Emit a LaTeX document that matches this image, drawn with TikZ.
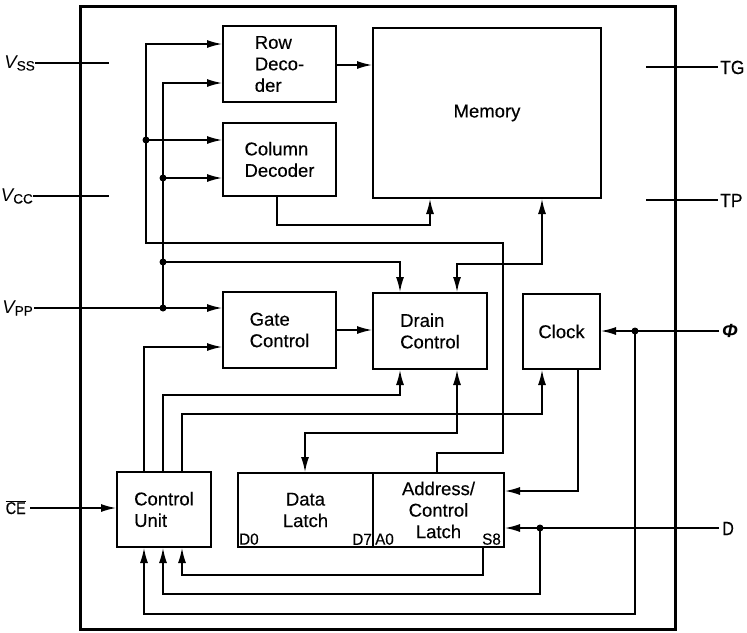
\documentclass[tikz,border=0pt]{standalone}
\usepackage{fontspec}
\setmainfont{Liberation Sans}
\newfontfamily\heavy{Liberation Sans}[FakeBold=0.35]
\usetikzlibrary{arrows.meta}
\begin{document}
\begin{tikzpicture}[x=1pt,y=-1pt,
  box/.style={draw, line width=2pt, anchor=north west, inner sep=0pt,
    font=\heavy\fontsize{18.5}{21.5}\selectfont, align=left},
  wire/.style={line width=1.4pt},
  tip/.tip={Latex[length=15pt,width=8pt]},
  arr/.style={wire, -tip},
  barr/.style={wire, tip-tip},
  dot/.style={circle, fill, inner sep=0pt, minimum size=7pt},
  pin/.style={inner sep=0pt, font=\heavy\fontsize{19}{19}\selectfont},
  small/.style={inner sep=0pt, font=\heavy\fontsize{16}{16}\selectfont}
]
\useasboundingbox (0,0) rectangle (747,632);

% chip outline
\node[draw, line width=2.8pt, anchor=north west, inner sep=0pt,
  minimum width=595pt, minimum height=623pt] (chip) at (79,5) {};

% blocks
\node[box, minimum width=113pt, minimum height=76pt] (rd) at (222,25) {Row\\Deco-\\der};
\node[box, minimum width=113pt, minimum height=73pt] (cd) at (222,122) {Column\\Decoder};
\node[box, minimum width=228pt, minimum height=170pt] (mem) at (372,27) {Memory};
\node[box, minimum width=113pt, minimum height=76pt] (gc) at (222,291) {Gate\\Control};
\node[box, minimum width=114pt, minimum height=76pt] (dc) at (372,292) {Drain\\Control};
\node[box, minimum width=77pt, minimum height=75pt] (clk) at (522,293) {Clock};
\node[box, minimum width=94pt, minimum height=75pt] (cu) at (116,471) {Control\\Unit};
\node[box, align=center, minimum width=135pt, minimum height=74pt] (dl) at (237,472) {Data\\Latch};
\node[box, align=center, minimum width=131pt, minimum height=74pt] (al) at (372,472) {Address/\\Control\\Latch};

% latch pin labels
\node[small, anchor=south west, xshift=2pt, yshift=3pt] (d0) at (dl.south west) {\scalebox{0.95}[1]{D0}};
\node[small, anchor=south east, xshift=-2pt, yshift=3pt] (d7) at (dl.south east) {\scalebox{0.95}[1]{D7}};
\node[small, anchor=south west, xshift=3pt, yshift=3pt] (a0) at (al.south west) {\scalebox{0.95}[1]{A0}};
\node[small, anchor=south east, xshift=-4pt, yshift=3pt] (s8) at (al.south east) {\scalebox{0.95}[1]{S8}};

% pin labels
\node[inner sep=0pt, anchor=base east] (vss) at (35,68)
  {{\fontsize{18.5}{18.5}\selectfont\itshape V}\raisebox{-2.5pt}{\heavy\fontsize{13.5}{13.5}\selectfont SS}};
\node[inner sep=0pt, anchor=base east] (vcc) at (33,201)
  {{\fontsize{18.5}{18.5}\selectfont\itshape V}\raisebox{-2.5pt}{\heavy\fontsize{13.5}{13.5}\selectfont CC}};
\node[inner sep=0pt, anchor=base east] (vpp) at (33,313)
  {{\fontsize{18.5}{18.5}\selectfont\itshape V}\raisebox{-2.5pt}{\heavy\fontsize{13.5}{13.5}\selectfont PP}};
\node[inner sep=0pt, anchor=base east] (ce) at (26,514)
  {\scalebox{0.85}[1]{$\overline{\hbox{\heavy\fontsize{17}{17}\selectfont CE}}$}};
\node[pin, anchor=base west] (tg) at (720,74) {\scalebox{0.92}[1]{TG}};
\node[pin, anchor=base west] (tp) at (720,207) {\scalebox{0.92}[1]{TP}};
\node[inner sep=0pt, anchor=west] (phi) at (722,331)
  {\fontsize{19}{19}\selectfont\bfseries\itshape Φ};
\node[pin, anchor=base west] (dpin) at (722,535) {\scalebox{0.85}[1]{D}};

% pin wire ends
\coordinate (vssA) at (35,63);  \coordinate (vssB) at (109,63);
\coordinate (vccA) at (33,196); \coordinate (vccB) at (109,196);
\coordinate (vppA) at (34,308);
\coordinate (ceA) at (30,508);
\coordinate (tgA) at (646,67);  \coordinate (tgB) at (718,67);
\coordinate (tpA) at (646,200); \coordinate (tpB) at (718,200);
\coordinate (phiA) at (719,331);
\coordinate (dA) at (719,528);

\draw[wire] (vssA) -- (vssB);
\draw[wire] (vccA) -- (vccB);
\draw[wire] (tgA) -- (tgB);
\draw[wire] (tpA) -- (tpB);

% junction dots
\node[dot] (j1) at (146,140) {};
\node[dot] (j2) at (163,178) {};
\node[dot] (j3) at (163,262) {};
\node[dot] (j4) at (163,308) {};
\node[dot] (j5) at (635,331) {};
\node[dot] (j6) at (540,528) {};

% bus from address latch to decoders
\draw[arr] (al.north -| 437,0) -- (437,453) -- (503,453) -- (503,243)
  -- (146,243) -- (146,44) -- (rd.west |- 0,44);
\draw[arr] (j1.center) -- (cd.west |- j1.center);

% Vpp bus
\draw[arr] (j4.center) -- (163,83) -- (rd.west |- 0,83);
\draw[arr] (j2.center) -- (cd.west |- j2.center);
\draw[arr] (j3.center) -- (400,262) -- (dc.north -| 400,0);
\draw[arr] (vppA) -- (gc.west |- vppA);

% decoders / memory
\draw[arr] (rd.east |- 0,65) -- (mem.west |- 0,65);
\draw[arr] (cd.south -| 277,0) -- (277,225) -- (430,225) -- (mem.south -| 430,0);
\draw[barr] (dc.north -| 457,0) -- (457,264) -- (542,264) -- (mem.south -| 542,0);

% gate -> drain
\draw[arr] (gc.east) -- (dc.west |- gc.east);

% control unit outputs
\draw[arr] (cu.north -| 144,0) -- (144,347) -- (gc.west |- 0,347);
\draw[arr] (cu.north -| 163,0) -- (163,395) -- (400,395) -- (dc.south -| 400,0);
\draw[arr] (cu.north -| 182,0) -- (182,414) -- (542,414) -- (clk.south -| 542,0);

% data latch <-> drain control
\draw[barr] (dl.north -| 305,0) -- (305,433) -- (457,433) -- (dc.south -| 457,0);

% clock -> address latch
\draw[arr] (clk.south -| 578,0) -- (578,491) -- (al.east |- 0,491);

% Phi
\draw[arr] (phiA) -- (clk.east |- phiA);
\draw[arr] (j5.center) -- (635,614) -- (144,614) -- (cu.south -| 144,0);

% D
\draw[arr] (dA) -- (al.east |- dA);
\draw[arr] (j6.center) -- (540,594) -- (163,594) -- (cu.south -| 163,0);

% address latch -> control unit
\draw[arr] (al.south -| 483,0) -- (483,575) -- (182,575) -- (cu.south -| 182,0);

% CE
\draw[arr] (ceA) -- (cu.west |- ceA);
\end{tikzpicture}
\end{document}
